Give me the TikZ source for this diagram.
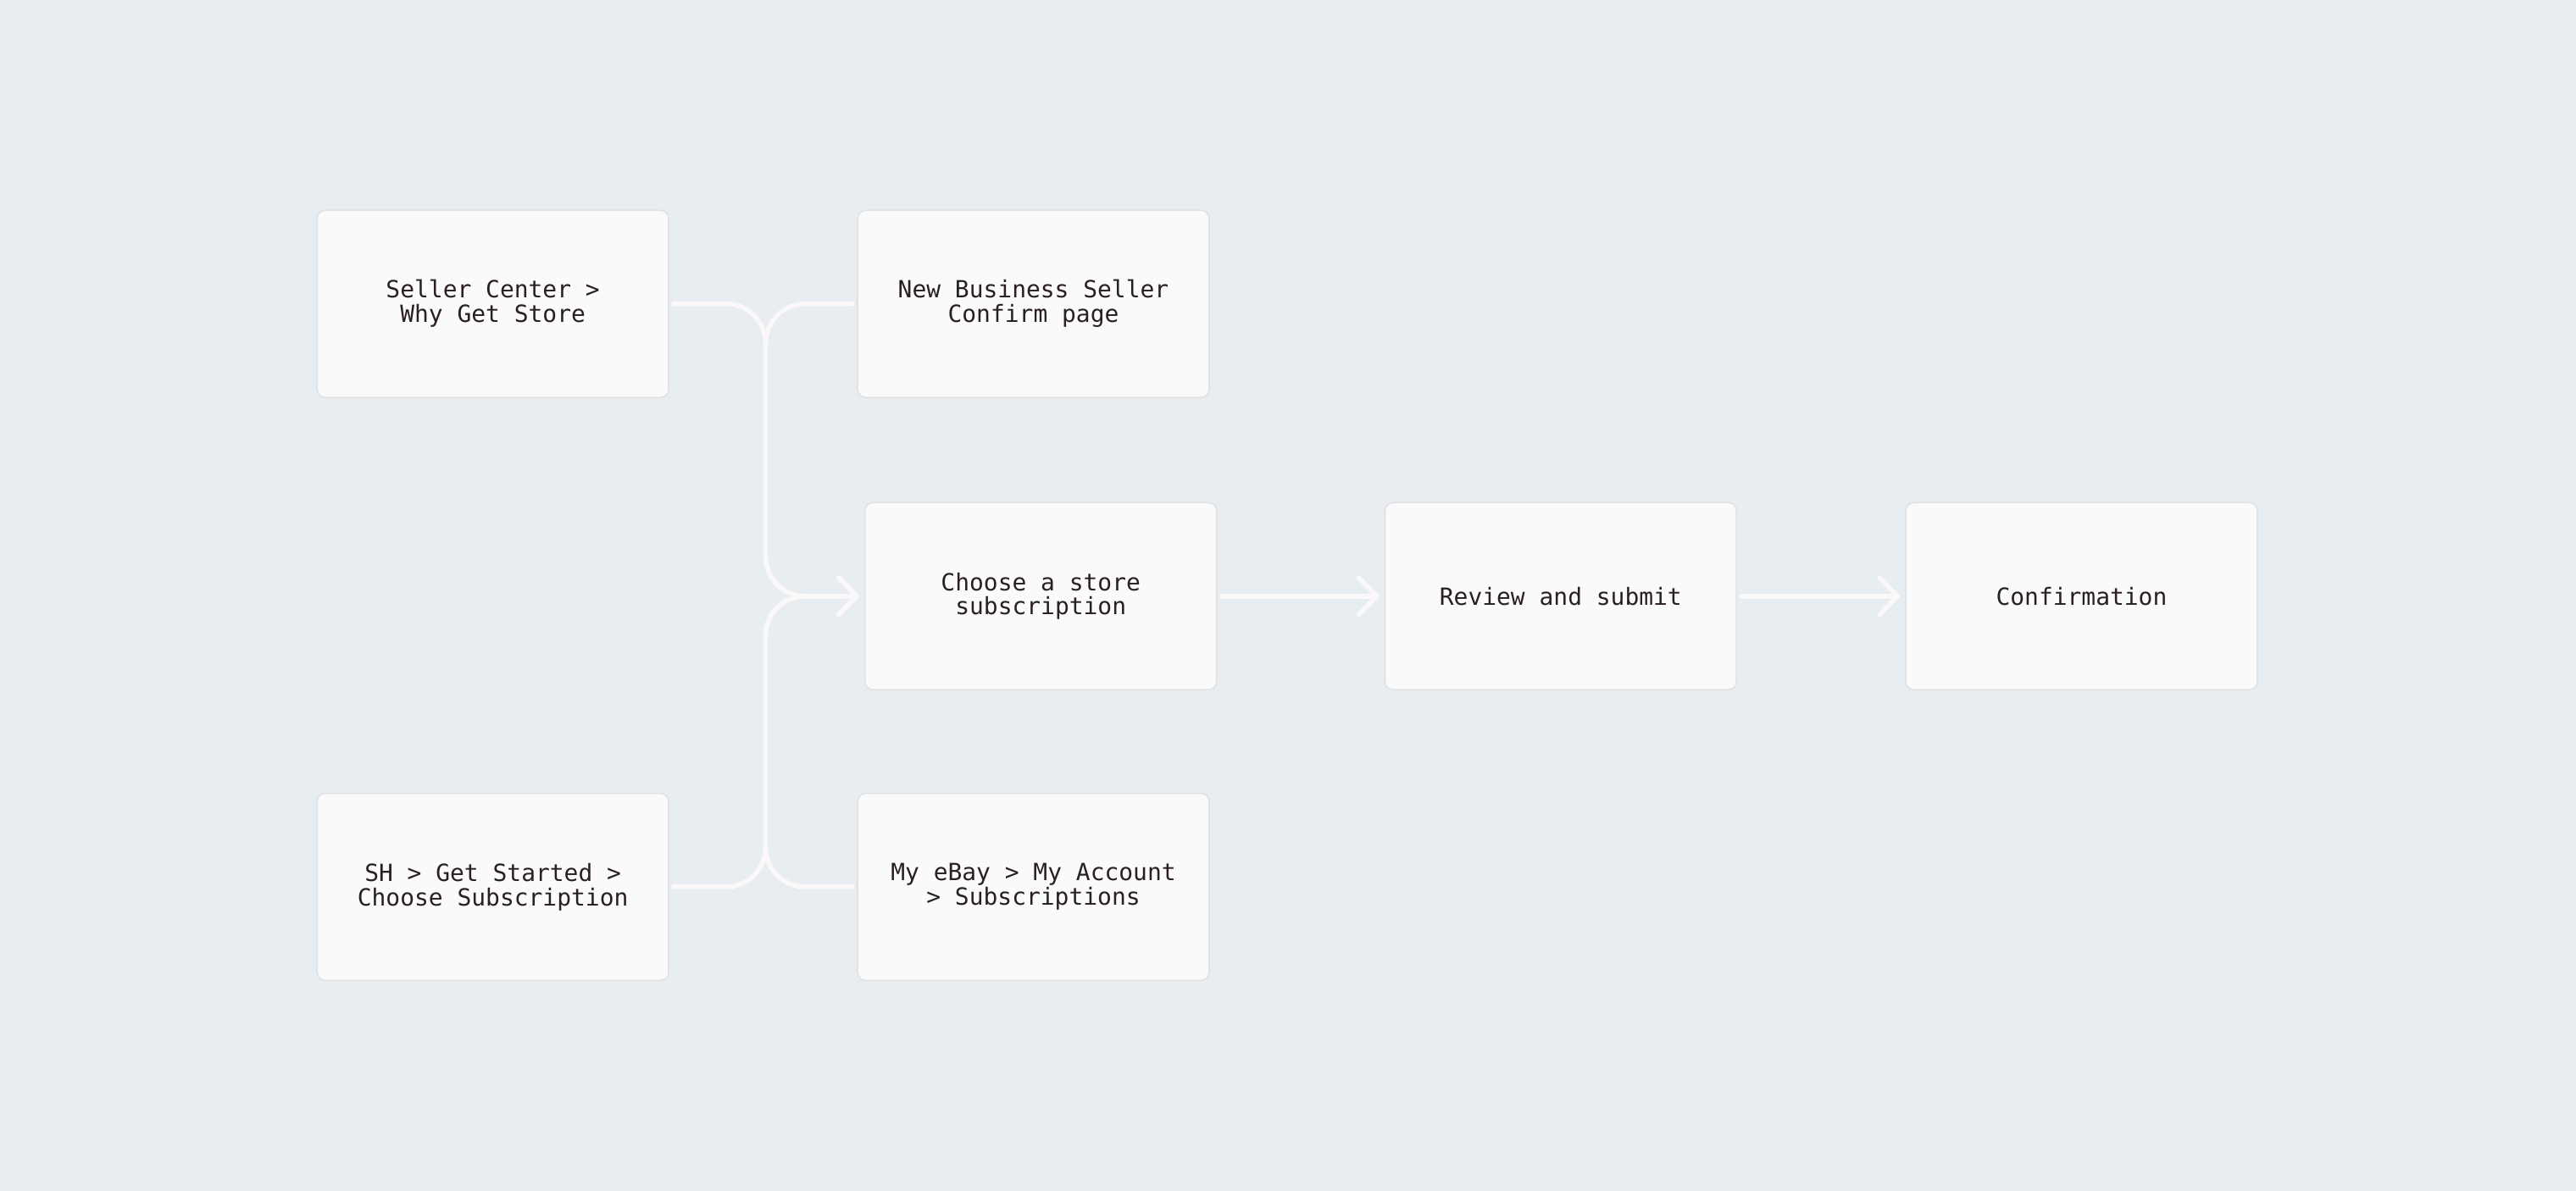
\documentclass[tikz,border=0pt]{standalone}
\usepackage{fontspec}
\setmonofont{DejaVu Sans Mono}
\usetikzlibrary{arrows.meta}
\definecolor{canvas}{HTML}{E8EDF1}
\definecolor{boxfill}{HTML}{FBFAFA}
\definecolor{boxline}{HTML}{E2E2E4}
\definecolor{ink}{HTML}{2A1F22}
\definecolor{wire}{HTML}{FAF8F8}
\tikzstyle{page} = [rectangle, rounded corners=0.1cm, minimum width=4.28cm, minimum height=2.28cm, text centered, align=center, fill=boxfill, draw=boxline, line width=0.5pt, text=ink, font=\ttfamily\fontsize{8.2}{8.5}\selectfont, outer sep=0.06cm]
\tikzstyle{link} = [line width=1.6pt, draw=wire, rounded corners=0.48cm, line cap=round]
\tikzstyle{arrow} = [link, -{Straight Barb[length=0.22cm, width=0.45cm, line cap=round]}]

\begin{document}
\begin{tikzpicture}
            \fill [canvas] (0,0) rectangle (31.36,-14.5);
            \useasboundingbox (0,0) rectangle (31.36,-14.5);

            \node [page] at (6.00,-3.70) (seller) {Seller Center >\\Why Get Store};
            \node [page] at (12.58,-3.70) (newbiz) {New Business Seller\\Confirm page};
            \node [page] at (12.67,-7.26) (choose) {Choose a store\\subscription};
            \node [page] at (19.00,-7.26) (review) {Review and submit};
            \node [page] at (25.34,-7.26) (confirm) {Confirmation};
            \node [page] at (6.00,-10.80) (sh) {SH > Get Started >\\Choose Subscription};
            \node [page] at (12.58,-10.80) (myebay) {My eBay > My Account\\> Subscriptions};
            \coordinate (merge) at (9.32,-7.26);

            \draw [arrow] (seller.east) -| (merge) -- (choose.west);
            \draw [arrow] (newbiz.west) -| (merge) -- (choose.west);
            \draw [arrow] (sh.east) -| (merge) -- (choose.west);
            \draw [arrow] (myebay.west) -| (merge) -- (choose.west);
            \draw [arrow] (choose) -- (review);
            \draw [arrow] (review) -- (confirm);
            \end{tikzpicture}
\end{document}
